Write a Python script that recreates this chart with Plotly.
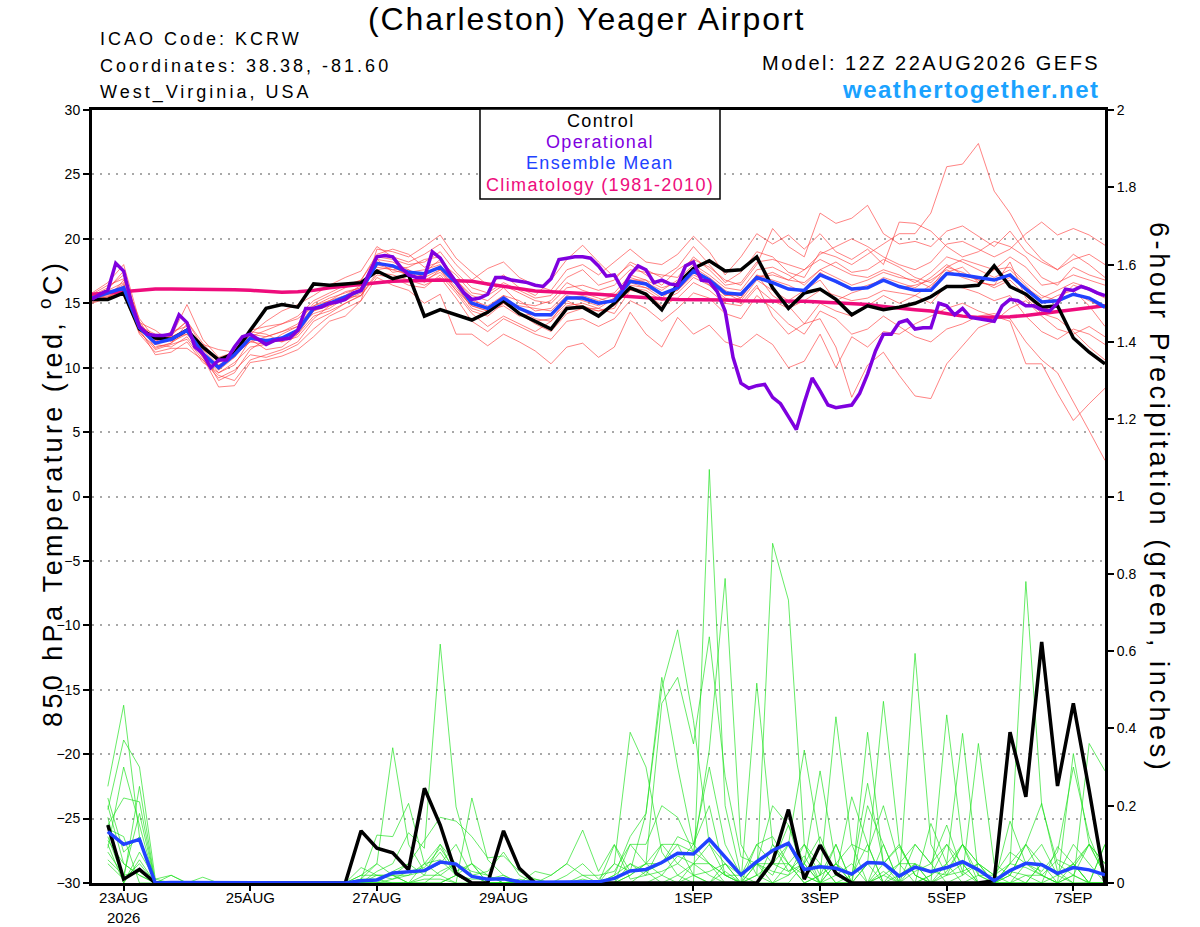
import pandas as pd
import plotly.graph_objects as go

# 6-hourly GEFS output, 12Z 22AUG2026 run, 16 days
times = pd.date_range("2026-08-22 12:00", periods=65, freq="6h")
op_times = pd.date_range("2026-08-22 12:00", periods=129, freq="3h")
precip_times = times[1:]

tick_dates = ["2026-08-23", "2026-08-25", "2026-08-27", "2026-08-29",
              "2026-09-01", "2026-09-03", "2026-09-05", "2026-09-07"]
tick_labels = ["23AUG<br>2026", "25AUG", "27AUG", "29AUG",
               "1SEP", "3SEP", "5SEP", "7SEP"]

# 850 hPa temperature (C)
control_t = [15.3, 15.3, 15.8, 13.0, 12.3, 12.2, 12.9, 11.6, 10.6, 11.1, 12.9, 14.6, 14.9, 14.7, 16.5, 16.4, 16.5, 16.6,
             17.5, 16.9, 17.2, 14.0, 14.5, 14.1, 13.7, 14.3, 15.2, 14.2, 13.6, 13.0, 14.6, 14.7, 14.0, 15.0, 16.2, 15.7,
             14.5, 16.5, 17.7, 18.3, 17.5, 17.6, 18.6, 16.2, 14.6, 15.8, 16.1, 15.3, 14.1, 14.8, 14.5, 14.7, 15.0, 15.5,
             16.3, 16.3, 16.4, 17.9, 16.3, 15.7, 14.7, 14.8, 12.3, 11.2, 10.3]
mean_t = [15.4, 15.8, 16.2, 13.1, 11.9, 12.2, 12.9, 11.1, 10.0, 11.0, 12.3, 12.1, 12.3, 12.9, 14.6, 15.0, 15.5, 16.0,
          18.1, 17.9, 17.4, 17.3, 17.8, 16.6, 15.0, 14.6, 15.4, 14.6, 14.1, 14.1, 15.4, 15.4, 15.0, 15.2, 16.7, 16.5,
          15.7, 16.2, 17.5, 16.8, 15.8, 15.7, 17.0, 16.6, 16.1, 16.0, 17.2, 16.7, 16.1, 16.2, 16.8, 16.3, 16.0, 16.0,
          17.3, 17.2, 17.0, 16.8, 17.2, 16.1, 15.1, 15.2, 15.7, 15.4, 14.7]
clim_t = [15.7, 15.8, 15.9, 16.0, 16.1, 16.1, 16.1, 16.1, 16.1, 16.05, 16.0, 15.9, 15.85, 15.9, 16.0, 16.2, 16.35,
          16.5, 16.6, 16.7, 16.75, 16.8, 16.8, 16.75, 16.7, 16.5, 16.3, 16.1, 15.95, 15.9, 15.85, 15.8, 15.7, 15.6,
          15.5, 15.4, 15.35, 15.3, 15.3, 15.25, 15.25, 15.2, 15.2, 15.2, 15.2, 15.15, 15.1, 15.05, 15.0, 14.9, 14.75,
          14.6, 14.5, 14.4, 14.2, 14.0, 13.9, 13.9, 13.95, 14.05, 14.2, 14.35, 14.5, 14.65, 14.8]
# operational GFS, 3-hourly
oper_t = [15.3, 15.7, 16.0, 18.1, 17.5, 15.0, 13.2, 12.6, 12.5, 12.5, 12.6, 14.1, 13.5, 11.6, 11.1, 10.0, 10.6,
          10.6, 11.6, 12.4, 12.6, 12.2, 11.8, 12.1, 12.2, 12.3, 12.9, 14.6, 14.6, 14.7, 15.0, 15.1, 15.3, 15.8,
          16.0, 17.3, 18.6, 18.7, 18.6, 17.8, 17.2, 17.0, 17.0, 19.0, 18.5, 17.5, 16.6, 15.8, 15.3, 15.4, 15.7,
          17.0, 17.0, 16.8, 16.7, 16.6, 16.4, 16.3, 16.9, 18.4, 18.5, 18.6, 18.6, 18.5, 17.9, 17.1, 17.2, 16.1,
          17.2, 17.9, 17.6, 16.6, 16.8, 16.5, 16.4, 17.9, 18.2, 16.8, 16.7, 15.9, 14.4, 10.8, 8.8, 8.4, 8.6, 8.7,
          7.7, 7.2, 6.2, 5.2, 7.3, 9.2, 8.2, 7.1, 6.9, 7.0, 7.1, 8.0, 9.5, 11.3, 12.6, 12.6, 13.5, 13.7, 13.0,
          13.1, 13.1, 15.0, 14.8, 14.1, 14.6, 13.9, 13.8, 13.7, 13.6, 14.8, 15.3, 15.2, 14.8, 14.8, 14.5, 14.4,
          15.0, 16.1, 16.0, 16.3, 16.1, 15.8, 15.6]

# ensemble members (red)
t_m01 = [15.6, 16.2, 17.2, 13.4, 12.2, 12.6, 13.6, 11.6, 10.4, 11.0, 12.0, 12.4, 12.8, 13.4, 15.0, 15.6, 16.2, 16.8,
         18.6, 18.4, 18.0, 18.2, 19.0, 17.4, 16.2, 15.8, 16.6, 16.0, 15.4, 15.6, 17.0, 17.6, 16.4, 16.8, 18.2, 17.6,
         17.0, 17.8, 19.4, 18.0, 16.6, 17.4, 19.0, 18.6, 17.4, 17.0, 19.0, 18.6, 18.0, 18.8, 19.6, 20.4, 20.4, 22.0,
         25.6, 25.8, 27.4, 23.7, 22.0, 19.8, 18.4, 17.6, 18.8, 18.0, 17.0]
t_m02 = [15.2, 15.5, 15.9, 12.8, 11.4, 11.8, 12.2, 10.6, 9.4, 9.0, 10.6, 11.0, 11.4, 12.0, 13.6, 14.2, 15.0, 15.6,
         17.4, 17.2, 16.8, 16.4, 17.0, 15.4, 13.6, 12.8, 13.8, 13.2, 12.6, 12.2, 13.6, 13.8, 13.2, 13.8, 15.2, 14.6,
         13.6, 14.6, 15.8, 15.4, 14.2, 13.8, 15.6, 14.6, 13.4, 12.6, 14.4, 13.8, 12.6, 13.0, 14.0, 13.2, 12.4, 12.0,
         13.0, 13.4, 14.0, 14.2, 13.8, 12.0, 10.6, 9.6, 7.4, 5.1, 2.8]
t_m03 = [15.0, 15.4, 16.4, 13.2, 12.6, 12.4, 14.9, 12.2, 10.8, 11.2, 12.8, 12.6, 12.0, 12.8, 14.4, 15.0, 15.2, 15.8,
         18.0, 17.6, 17.8, 18.4, 18.6, 16.8, 15.6, 15.2, 16.2, 15.0, 14.8, 15.2, 16.6, 16.0, 15.6, 15.8, 17.2, 16.8,
         16.2, 16.6, 17.8, 17.0, 16.0, 15.4, 17.2, 15.6, 14.8, 13.4, 13.8, 11.6, 7.7, 10.2, 11.2, 9.4, 7.8, 7.6,
         10.3, 11.7, 13.1, 13.6, 14.6, 15.2, 14.0, 13.0, 12.6, 13.2, 12.4]
t_m04 = [15.8, 16.6, 18.0, 13.6, 11.8, 11.6, 12.4, 10.8, 8.5, 8.6, 10.4, 10.6, 10.9, 11.4, 12.4, 13.6, 14.0, 15.2,
         19.2, 19.0, 18.6, 19.4, 20.3, 18.5, 17.4, 16.4, 17.2, 16.2, 15.6, 16.8, 18.4, 19.5, 18.2, 17.0, 18.0, 17.2,
         16.4, 17.6, 18.4, 17.8, 16.8, 16.4, 18.0, 20.8, 19.4, 18.6, 22.0, 21.2, 21.6, 22.6, 20.4, 19.6, 19.8, 19.4,
         20.6, 21.0, 20.2, 19.4, 20.6, 19.0, 18.2, 17.6, 18.4, 18.8, 18.0]
t_m05 = [15.3, 15.6, 15.8, 12.9, 12.0, 12.8, 13.2, 11.4, 10.6, 11.3, 12.9, 13.2, 13.4, 13.8, 14.8, 15.4, 15.8, 16.2,
         17.6, 17.8, 17.2, 16.8, 17.4, 16.0, 14.4, 14.0, 15.0, 14.2, 13.4, 12.8, 14.2, 14.6, 14.4, 14.8, 16.2, 16.0,
         15.2, 15.8, 17.0, 16.4, 15.4, 15.0, 16.4, 14.0, 12.6, 13.4, 15.0, 14.4, 14.0, 14.8, 15.6, 15.0, 15.6, 16.4,
         17.4, 17.8, 16.6, 16.4, 18.2, 15.4, 14.2, 13.8, 12.8, 11.6, 10.6]
t_m06 = [15.5, 16.0, 16.6, 13.0, 11.0, 11.2, 12.0, 10.4, 9.6, 10.4, 11.6, 11.8, 12.6, 13.2, 14.2, 14.6, 15.4, 16.0,
         18.4, 18.2, 17.6, 17.0, 17.6, 16.2, 14.8, 14.4, 15.0, 14.2, 13.6, 13.8, 15.0, 14.8, 14.4, 14.6, 16.6, 16.2,
         15.4, 16.4, 17.6, 16.8, 15.6, 15.6, 17.0, 17.2, 16.8, 16.6, 17.6, 17.0, 16.4, 16.8, 17.4, 17.0, 16.8, 16.2,
         17.8, 18.4, 18.0, 17.6, 17.8, 16.6, 15.6, 15.2, 16.4, 16.0, 15.4]
t_m07 = [15.6, 15.9, 16.2, 13.2, 12.4, 12.4, 13.0, 11.8, 11.4, 11.2, 12.4, 12.9, 13.4, 14.0, 15.2, 15.8, 16.4, 16.8,
         18.8, 19.2, 18.8, 17.8, 18.2, 17.2, 15.8, 15.6, 16.4, 15.8, 15.2, 15.0, 16.2, 16.4, 16.0, 16.4, 17.6, 17.4,
         17.2, 17.0, 18.6, 17.6, 16.4, 16.6, 18.2, 18.4, 18.0, 17.6, 18.8, 19.4, 20.0, 19.4, 18.6, 18.0, 17.6, 18.2,
         19.6, 19.8, 19.2, 18.6, 19.2, 20.4, 21.3, 20.3, 20.8, 20.3, 19.5]
t_m08 = [15.2, 15.7, 16.5, 13.5, 12.9, 12.0, 12.6, 11.2, 9.8, 10.8, 12.2, 11.4, 11.6, 12.6, 14.0, 14.4, 15.0, 15.6,
         17.2, 17.0, 16.4, 16.2, 17.2, 15.8, 14.2, 13.2, 14.0, 13.4, 12.8, 13.6, 14.8, 15.0, 14.6, 14.2, 16.0, 15.8,
         14.8, 15.4, 16.6, 16.0, 15.0, 14.8, 16.2, 15.2, 14.6, 15.2, 16.0, 15.6, 15.2, 15.4, 16.0, 15.8, 15.6, 15.0,
         16.4, 16.2, 15.8, 15.2, 15.6, 14.0, 12.8, 12.2, 13.0, 12.6, 11.8]
t_m09 = [15.4, 16.0, 16.0, 12.7, 11.6, 11.9, 13.4, 11.0, 9.0, 9.6, 11.4, 12.2, 12.0, 12.4, 13.8, 14.8, 15.4, 15.6,
         18.2, 17.8, 17.4, 17.6, 18.0, 16.4, 14.6, 14.2, 15.2, 14.8, 14.6, 14.4, 15.6, 15.2, 14.8, 15.4, 17.0, 16.6,
         16.0, 16.8, 18.0, 17.2, 16.2, 16.0, 17.6, 17.8, 17.2, 16.4, 17.6, 18.2, 17.4, 17.6, 18.4, 17.8, 17.0, 16.6,
         17.8, 17.4, 16.8, 17.6, 18.6, 17.8, 16.4, 16.6, 17.2, 16.8, 16.4]
t_m10 = [15.1, 15.4, 16.8, 13.8, 12.2, 12.2, 12.8, 10.8, 10.2, 11.0, 12.0, 11.8, 12.2, 12.9, 14.6, 15.2, 15.6, 16.4,
         17.8, 17.6, 17.2, 17.4, 18.4, 16.6, 15.2, 14.8, 15.6, 14.6, 13.8, 13.6, 15.4, 15.6, 15.2, 15.6, 16.8, 16.8,
         15.6, 16.2, 17.4, 16.6, 15.8, 15.2, 16.8, 16.0, 15.2, 16.0, 16.8, 15.2, 15.8, 16.2, 17.0, 16.6, 16.2, 17.0,
         18.0, 17.2, 16.8, 16.2, 16.8, 15.6, 14.4, 15.0, 15.8, 15.2, 14.6]
t_m11 = [15.7, 16.4, 16.9, 13.3, 11.8, 12.5, 13.6, 11.9, 10.5, 11.4, 12.6, 13.6, 14.4, 14.9, 15.6, 16.4, 17.0, 17.5,
         19.4, 18.6, 18.2, 18.8, 19.6, 18.0, 16.8, 17.7, 18.2, 17.0, 16.4, 16.0, 17.6, 18.0, 17.2, 18.2, 19.2, 18.2,
         18.0, 18.8, 20.2, 19.0, 17.2, 18.6, 20.4, 19.6, 20.3, 19.2, 20.4, 19.0, 18.4, 19.2, 18.0, 21.3, 21.2, 20.6,
         19.4, 18.6, 19.0, 19.8, 19.4, 18.6, 17.0, 16.4, 17.8, 17.2, 16.8]
t_m12 = [15.3, 15.5, 15.7, 12.6, 11.2, 11.5, 11.5, 10.6, 9.2, 9.8, 11.0, 10.8, 11.2, 11.8, 13.0, 14.0, 14.6, 15.2,
         17.0, 16.4, 16.0, 15.0, 15.7, 12.6, 12.6, 11.7, 12.6, 12.0, 11.3, 10.3, 11.6, 11.9, 10.8, 11.6, 14.3, 12.6,
         11.6, 13.9, 12.6, 13.3, 12.0, 11.6, 12.6, 11.8, 10.0, 10.5, 12.6, 10.0, 12.4, 11.6, 12.8, 12.6, 13.4, 14.0,
         14.6, 15.0, 14.4, 14.0, 13.6, 10.3, 10.3, 8.0, 5.9, 7.2, 8.4]
t_m13 = [15.5, 15.8, 16.3, 13.0, 12.1, 12.3, 12.6, 11.4, 10.2, 10.8, 12.6, 12.4, 12.8, 13.2, 14.8, 15.2, 15.9, 16.2,
         18.0, 18.0, 17.0, 17.2, 17.8, 16.8, 15.4, 14.6, 15.6, 15.2, 14.4, 14.6, 15.8, 15.8, 15.4, 15.0, 16.4, 16.2,
         15.8, 16.0, 17.2, 16.6, 15.6, 15.8, 17.2, 16.8, 16.4, 15.8, 17.4, 16.6, 16.0, 16.4, 16.8, 16.2, 16.4, 16.8,
         17.6, 17.0, 16.6, 16.4, 17.0, 16.2, 15.4, 16.0, 16.6, 16.2, 15.6]
t_m14 = [15.4, 16.1, 17.5, 13.4, 11.5, 11.9, 12.8, 11.1, 9.6, 10.2, 12.2, 12.2, 12.1, 12.6, 14.4, 14.8, 15.3, 15.9,
         18.4, 17.4, 17.6, 16.6, 17.6, 16.0, 14.8, 14.4, 14.8, 14.0, 14.2, 14.0, 15.2, 14.6, 14.6, 15.4, 16.8, 16.6,
         15.6, 16.0, 17.4, 16.4, 15.2, 15.4, 17.0, 17.4, 16.8, 17.6, 18.4, 17.8, 17.2, 17.0, 17.6, 17.2, 16.6, 17.4,
         18.6, 18.2, 17.6, 17.0, 17.6, 16.4, 15.0, 15.6, 16.0, 14.8, 13.2]
temp_members = [t_m01, t_m02, t_m03, t_m04, t_m05, t_m06, t_m07,
                t_m08, t_m09, t_m10, t_m11, t_m12, t_m13, t_m14]

# 6-hour precipitation (inches), from 18Z 22AUG
control_p = [0.15, 0.01, 0.035, 0, 0, 0, 0, 0, 0, 0, 0, 0, 0, 0, 0, 0,
             0.135, 0.09, 0.078, 0.034, 0.245, 0.15, 0.025, 0, 0, 0.135, 0.038, 0, 0, 0, 0, 0,
             0, 0, 0, 0, 0, 0, 0, 0, 0, 0, 0.055, 0.19, 0.01, 0.098, 0.025, 0,
             0, 0, 0, 0, 0, 0, 0, 0, 0.006, 0.39, 0.223, 0.624, 0.251, 0.465, 0.24, 0]
mean_p = [0.133, 0.10, 0.113, 0, 0.001, 0.001, 0.001, 0.001, 0.001, 0.001, 0.001, 0.001, 0.001, 0.001, 0.001, 0,
          0.006, 0.008, 0.026, 0.028, 0.032, 0.054, 0.049, 0.017, 0.010, 0.011, 0.003, 0.002, 0.002, 0.003, 0.004, 0.003,
          0.012, 0.031, 0.035, 0.053, 0.077, 0.075, 0.113, 0.068, 0.021, 0.055, 0.084, 0.103, 0.035, 0.042, 0.038, 0.023,
          0.053, 0.051, 0.018, 0.041, 0.029, 0.040, 0.055, 0.034, 0.006, 0.032, 0.051, 0.047, 0.025, 0.040, 0.034, 0.021]

p_m01 = [0.25, 0.46, 0.12, 0, 0, 0, 0, 0, 0, 0, 0, 0, 0, 0, 0, 0,
         0.02, 0.05, 0.35, 0.1, 0.03, 0.08, 0.02, 0, 0, 0, 0, 0, 0, 0.02, 0.05, 0.01,
         0.05, 0.39, 0.3, 0.08, 0.02, 0, 1.07, 0.2, 0.02, 0, 0.1, 0.05, 0, 0.02, 0.1, 0,
         0.05, 0.47, 0.1, 0.02, 0, 0.03, 0.1, 0.02, 0, 0.05, 0.78, 0.2, 0.05, 0.02, 0.1, 0.05]
p_m02 = [0.19, 0.37, 0.30, 0.01, 0.02, 0, 0, 0, 0, 0, 0, 0, 0, 0, 0, 0,
         0.01, 0.124, 0.12, 0.206, 0.05, 0.02, 0, 0.22, 0.06, 0.02, 0, 0, 0.02, 0.05, 0.137, 0.03,
         0.1, 0.03, 0.18, 0.504, 0.655, 0.42, 0.1, 0.02, 0, 0.05, 0.02, 0.1, 0.344, 0.1, 0.02, 0,
         0, 0.03, 0, 0.594, 0.1, 0.02, 0.05, 0, 0, 0.16, 0.05, 0.02, 0, 0.335, 0.1, 0.02]
p_m03 = [0.15, 0.22, 0.21, 0, 0, 0, 0.015, 0, 0, 0, 0, 0, 0, 0, 0, 0,
         0, 0.03, 0.05, 0.13, 0.09, 0.618, 0.197, 0.05, 0.02, 0, 0, 0.01, 0, 0, 0.02, 0,
         0, 0.02, 0.05, 0.465, 0.532, 0.36, 0.637, 0.275, 0.068, 0.05, 0.03, 0.02, 0.1, 0.05, 0, 0.02,
         0.258, 0.05, 0.094, 0.02, 0, 0.435, 0.1, 0.05, 0, 0.02, 0.1, 0.206, 0.03, 0, 0.361, 0.29]
p_m04 = [0.09, 0.30, 0.15, 0, 0, 0, 0, 0, 0, 0, 0, 0, 0, 0, 0, 0,
         0.04, 0.02, 0.02, 0.05, 0.11, 0.17, 0.16, 0.12, 0.065, 0.07, 0.03, 0.01, 0, 0, 0.01, 0,
         0.098, 0.01, 0.02, 0.1, 0.1, 0.08, 0.344, 0.788, 0.1, 0.02, 0.879, 0.732, 0.1, 0.02, 0.05, 0,
         0.39, 0.05, 0, 0, 0.154, 0.05, 0.387, 0.02, 0, 0, 0.05, 0.1, 0.02, 0.05, 0, 0.1]
p_m05 = [0.12, 0.01, 0.05, 0, 0.02, 0, 0, 0, 0, 0, 0, 0, 0, 0, 0, 0,
         0, 0, 0.01, 0.02, 0.03, 0.05, 0.1, 0.02, 0, 0, 0, 0.03, 0.02, 0.05, 0.02, 0.02,
         0.03, 0.1, 0.1, 0.2, 0.17, 0.08, 0.05, 0.02, 0, 0.517, 0.1, 0.03, 0.05, 0.29, 0.05, 0.1,
         0.08, 0.2, 0.05, 0.1, 0.05, 0.1, 0.02, 0.361, 0.05, 0.02, 0, 0.05, 0.02, 0.05, 0.1, 0.02]
p_m06 = [0.06, 0.02, 0.18, 0, 0, 0, 0, 0, 0, 0, 0, 0, 0, 0, 0, 0,
         0.01, 0.01, 0, 0, 0.05, 0.06, 0.02, 0, 0, 0, 0, 0, 0, 0, 0, 0,
         0, 0, 0.03, 0.05, 0.12, 0.1, 0.2, 0.02, 0.02, 0.1, 0.12, 0.05, 0, 0.02, 0.43, 0.1,
         0, 0.02, 0.05, 0.05, 0.03, 0.02, 0.1, 0, 0, 0.05, 0.1, 0.05, 0.02, 0.1, 0.05, 0]
p_m07 = [0.2, 0.05, 0.02, 0, 0, 0, 0, 0, 0, 0, 0, 0, 0, 0, 0, 0,
         0, 0, 0.03, 0.05, 0.02, 0.1, 0.05, 0.02, 0.03, 0.08, 0.02, 0, 0, 0, 0, 0,
         0, 0.05, 0.02, 0.03, 0.05, 0.02, 0, 0.05, 0, 0.02, 0.05, 0.03, 0.07, 0, 0.02, 0.223,
         0.1, 0, 0.02, 0.05, 0, 0.02, 0.03, 0.05, 0.02, 0.08, 0.05, 0.03, 0.08, 0.3, 0.12, 0.02]
p_m08 = [0.22, 0.08, 0.12, 0, 0, 0, 0, 0, 0, 0, 0, 0, 0, 0, 0, 0,
         0, 0, 0, 0, 0, 0.03, 0.05, 0.03, 0.02, 0, 0, 0, 0, 0, 0, 0,
         0, 0, 0, 0.02, 0.07, 0.05, 0.1, 0.05, 0.02, 0.05, 0, 0.05, 0.02, 0, 0.05, 0,
         0, 0.1, 0, 0.03, 0.05, 0, 0.02, 0.05, 0, 0, 0, 0, 0.02, 0, 0, 0]
p_m09 = [0.1, 0, 0.08, 0.01, 0, 0, 0, 0, 0, 0, 0, 0, 0, 0, 0, 0,
         0, 0.02, 0.02, 0, 0.02, 0.02, 0.05, 0.02, 0, 0, 0, 0, 0, 0, 0, 0,
         0, 0.02, 0.05, 0.1, 0.05, 0.1, 0.3, 0.1, 0.02, 0.05, 0.2, 0.15, 0.05, 0.12, 0.02, 0.05,
         0, 0.05, 0.1, 0.02, 0, 0.05, 0.1, 0.05, 0.02, 0.05, 0.04, 0.02, 0.06, 0.04, 0.1, 0.05]
p_m10 = [0.08, 0.02, 0.03, 0, 0, 0, 0, 0, 0, 0, 0, 0, 0, 0, 0, 0,
         0.02, 0.02, 0.01, 0.03, 0.04, 0.09, 0.03, 0.05, 0, 0, 0, 0, 0, 0, 0, 0,
         0.02, 0.05, 0.03, 0, 0.02, 0.05, 0.05, 0.02, 0, 0.05, 0.05, 0.15, 0.02, 0.05, 0, 0,
         0.2, 0.1, 0, 0.1, 0.05, 0.15, 0.03, 0, 0, 0.03, 0.02, 0, 0.094, 0.05, 0, 0]
p_m11 = [0.14, 0.12, 0, 0, 0, 0, 0, 0, 0, 0, 0, 0, 0, 0, 0, 0,
         0, 0, 0, 0, 0, 0, 0.02, 0, 0, 0, 0, 0, 0, 0, 0, 0,
         0.02, 0.12, 0.18, 0.532, 0.3, 0.1, 0.05, 0, 0, 0.1, 0.05, 0.05, 0.1, 0, 0.05, 0.02,
         0.1, 0, 0.05, 0, 0.02, 0.1, 0.05, 0, 0, 0.02, 0.1, 0.02, 0, 0.05, 0, 0.1]
p_m12 = [0.17, 0, 0.06, 0, 0, 0, 0, 0, 0, 0, 0, 0, 0, 0, 0, 0,
         0, 0.01, 0.02, 0.02, 0.05, 0.1, 0.02, 0.01, 0.01, 0.02, 0, 0, 0, 0, 0, 0,
         0, 0, 0, 0, 0, 0.02, 0.03, 0.05, 0, 0, 0, 0.02, 0.05, 0, 0, 0,
         0, 0.02, 0, 0.05, 0, 0, 0, 0, 0, 0, 0, 0.05, 0, 0.02, 0, 0]
p_m13 = [0.05, 0.01, 0.25, 0, 0, 0, 0, 0, 0, 0, 0, 0, 0, 0, 0, 0,
         0, 0, 0, 0, 0.01, 0.01, 0, 0, 0, 0, 0, 0, 0, 0, 0, 0,
         0, 0.1, 0.05, 0.02, 0, 0.05, 0.02, 0, 0, 0, 0.05, 0.1, 0.02, 0, 0.1, 0,
         0.05, 0, 0, 0, 0.02, 0.05, 0, 0.02, 0.02, 0, 0.02, 0.02, 0, 0.02, 0, 0]
p_m14 = [0.11, 0.05, 0.02, 0, 0, 0, 0, 0, 0, 0, 0, 0, 0, 0, 0, 0,
         0.01, 0.05, 0.02, 0, 0, 0, 0.02, 0.05, 0, 0, 0.01, 0, 0, 0, 0, 0,
         0.05, 0.03, 0.05, 0.05, 0.1, 0.02, 0, 0.03, 0, 0.02, 0, 0, 0.05, 0, 0, 0,
         0, 0, 0, 0, 0, 0, 0, 0, 0, 0, 0, 0, 0, 0, 0, 0]
precip_members = [p_m01, p_m02, p_m03, p_m04, p_m05, p_m06, p_m07,
                  p_m08, p_m09, p_m10, p_m11, p_m12, p_m13, p_m14]

FONT = "Liberation Sans, Arial, Helvetica, sans-serif"
PURPLE = "#7f00df"
BLUE = "#2142ff"
PINK = "#ee0c7c"

fig = go.Figure()

for m in temp_members:
    fig.add_trace(go.Scatter(x=times, y=m, mode="lines",
                             line=dict(color="rgba(255,60,60,0.8)", width=0.8),
                             hoverinfo="skip"))

fig.add_trace(go.Scatter(x=times, y=clim_t, mode="lines", line=dict(color=PINK, width=3.5)))
fig.add_trace(go.Scatter(x=times, y=control_t, mode="lines", line=dict(color="black", width=3.5)))
fig.add_trace(go.Scatter(x=times, y=mean_t, mode="lines", line=dict(color=BLUE, width=3.5)))
fig.add_trace(go.Scatter(x=op_times, y=oper_t, mode="lines", line=dict(color=PURPLE, width=3.5)))

for m in precip_members:
    fig.add_trace(go.Scatter(x=precip_times, y=m, mode="lines", yaxis="y2",
                             line=dict(color="rgba(30,225,30,0.85)", width=0.8),
                             hoverinfo="skip"))

fig.add_trace(go.Scatter(x=precip_times, y=control_p, mode="lines", yaxis="y2",
                         line=dict(color="black", width=3.5)))
fig.add_trace(go.Scatter(x=precip_times, y=mean_p, mode="lines", yaxis="y2",
                         line=dict(color=BLUE, width=3.5)))

p_ticks = [0, 0.2, 0.4, 0.6, 0.8, 1, 1.2, 1.4, 1.6, 1.8, 2]

fig.update_layout(
    width=1200, height=927,
    margin=dict(l=92, r=95, t=110, b=44),
    plot_bgcolor="white", paper_bgcolor="white",
    showlegend=False,
    font=dict(family=FONT, color="black"),
    xaxis=dict(range=[times[0], times[-1]], tickvals=tick_dates, ticktext=tick_labels,
               ticks="outside", ticklen=5, tickwidth=1.5, tickcolor="black",
               ticklabelstandoff=-6,
               showline=True, linewidth=3, linecolor="black", mirror=True,
               showgrid=False, zeroline=False, automargin=False, tickfont=dict(size=15)),
    yaxis=dict(range=[-30, 30], tickvals=list(range(-30, 31, 5)),
               ticks="outside", ticklen=6, tickwidth=1.5, tickcolor="black",
               showline=True, linewidth=3, linecolor="black",
               showgrid=True, gridcolor="#a8a8a8", gridwidth=1.5, griddash="2px,6px",
               zeroline=False, automargin=False, tickfont=dict(size=14)),
    yaxis2=dict(range=[0, 2], overlaying="y", side="right",
                tickvals=p_ticks, ticktext=[f"{v:g}" for v in p_ticks],
                ticks="outside", ticklen=6, tickwidth=1.5, tickcolor="black",
                showline=True, linewidth=3, linecolor="black",
                showgrid=False, zeroline=False, automargin=False, tickfont=dict(size=14)),
)


def px(x):
    return (x - 92) / 1013


def py(y):
    return (883 - y) / 773


def spaced(text, gap):
    return f"<span style='letter-spacing:{gap}px'>{text}</span>"


notes = [
    ("(Charleston) Yeager Airport", 586, 19, "center", 32, "black", 1.9),
    ("ICAO Code: KCRW", 98, 39, "left", 18, "black", 3.0),
    ("Coordinates: 38.38, -81.60", 98, 66, "left", 18, "black", 3.0),
    ("West_Virginia, USA", 98, 93, "left", 18, "black", 3.0),
    ("Model: 12Z 22AUG2026 GEFS", 1102, 63, "right", 20, "black", 2.5),
    ("<b>weathertogether.net</b>", 1102, 89, "right", 24, "#1aa2ff", 1.5),
]
for text, x, y, anchor, size, color, gap in notes:
    fig.add_annotation(text=spaced(text, gap), x=px(x), y=py(y), xref="paper", yref="paper",
                       xanchor=anchor, yanchor="middle", showarrow=False,
                       font=dict(size=size, color=color))

fig.add_annotation(text=spaced("850 hPa Temperature (red, <sup>o</sup>C)", 3.4),
                   x=px(32), y=py(494), xref="paper", yref="paper", textangle=-90,
                   showarrow=False, font=dict(size=27))
fig.add_annotation(text=spaced("6-hour Precipitation (green, inches)", 3.6),
                   x=px(1176), y=py(497), xref="paper", yref="paper", textangle=90,
                   showarrow=False, font=dict(size=27))

# legend box
fig.add_shape(type="rect", xref="paper", yref="paper",
              x0=px(480), x1=px(720), y0=py(199), y1=py(109),
              fillcolor="white", line=dict(color="black", width=1.5))
legend_rows = [("Control", "black", 121), ("Operational", PURPLE, 142),
               ("Ensemble Mean", BLUE, 163), ("Climatology (1981-2010)", PINK, 185)]
for text, color, y in legend_rows:
    fig.add_annotation(text=spaced(text, 1.35), x=px(600), y=py(y), xref="paper", yref="paper",
                       xanchor="center", yanchor="middle", showarrow=False,
                       font=dict(size=18, color=color))

# drop the browser's default page margin so the figure sits at the window origin
fig.write_html("out.html", config={"displayModeBar": False},
               post_script="document.body.style.margin = '0';")
